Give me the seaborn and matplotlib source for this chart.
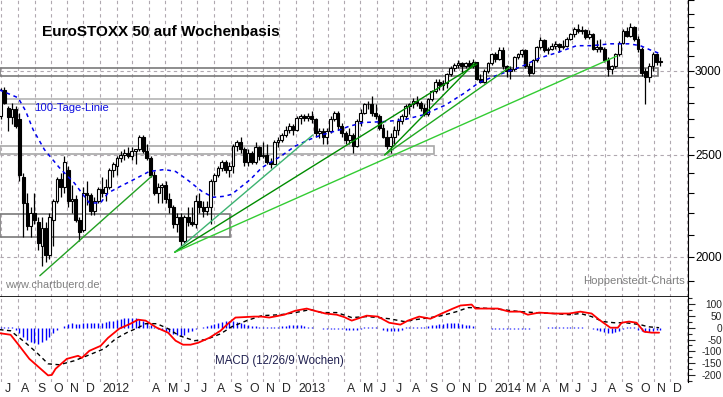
import numpy as np
import pandas as pd
import matplotlib
matplotlib.use("Agg")
import matplotlib.pyplot as plt
import matplotlib.dates as mdates
import matplotlib.ticker as mticker
from matplotlib import font_manager as fm
from matplotlib.patches import Rectangle
import seaborn as sns

# ---------------- data (weekly candles, EuroSTOXX 50) ----------------
first_week = "2011-06-27"
opens = [2720,2880,2770,2715,2760,2700,2380,2250,2140,2200,2160,2050,2130,2010,2170,2260,2370,2330,2420,2260,
         2270,2170,2120,2300,2290,2210,2260,2320,2300,2330,2420,2440,2480,2500,2510,2490,2520,2530,2600,2520,
         2480,2390,2300,2330,2340,2270,2230,2150,2180,2070,2180,2160,2150,2260,2230,2210,2230,2360,2390,2430,
         2460,2420,2440,2550,2570,2530,2460,2510,2460,2540,2490,2500,2460,2450,2570,2580,2610,2640,2660,2640,
         2710,2720,2710,2720,2700,2620,2630,2600,2630,2700,2740,2660,2620,2580,2610,2550,2690,2740,2790,2790,
         2740,2720,2650,2600,2550,2600,2640,2690,2720,2780,2790,2810,2800,2770,2730,2820,2870,2930,2910,2920,
         2980,3020,3040,3050,3030,3050,3030,3060,2950,2930,3000,3050,3110,3080,3140,3030,3000,3010,3090,3110,
         3140,3030,2990,3070,3160,3210,3140,3150,3170,3180,3160,3170,3220,3250,3290,3270,3280,3230,3250,3150,
         3160,3150,3070,3010,3030,3110,3190,3270,3240,3300,3220,3150,3000,2960,3030,3110,3060]
highs = [2890,2900,2780,2800,2780,2740,2400,2300,2230,2300,2180,2180,2160,2200,2270,2380,2400,2490,2440,2340,
         2290,2180,2330,2360,2300,2280,2330,2380,2370,2430,2460,2490,2520,2530,2540,2540,2530,2610,2610,2560,
         2490,2410,2350,2350,2360,2300,2240,2200,2200,2190,2230,2230,2290,2300,2260,2260,2370,2400,2440,2470,
         2470,2460,2560,2580,2600,2540,2530,2520,2570,2550,2570,2560,2480,2580,2600,2620,2660,2680,2670,2720,
         2730,2730,2740,2750,2710,2650,2650,2650,2720,2750,2750,2680,2630,2650,2620,2700,2760,2800,2810,2840,
         2790,2730,2670,2640,2620,2660,2710,2730,2790,2800,2830,2840,2810,2790,2830,2880,2950,2950,2940,2990,
         3030,3050,3070,3060,3060,3070,3080,3060,2980,3010,3060,3120,3130,3160,3160,3040,3030,3100,3120,3150,
         3150,3050,3080,3170,3230,3220,3160,3190,3200,3190,3210,3230,3260,3300,3320,3310,3290,3280,3260,3210,
         3220,3160,3090,3040,3120,3200,3290,3300,3330,3310,3240,3160,3020,3050,3130,3120,3090]
lows = [2700,2790,2630,2670,2650,2360,2090,2120,2090,2150,2030,1960,1980,1990,2050,2250,2280,2300,2230,2200,
        2160,2070,2110,2240,2190,2190,2250,2280,2260,2320,2380,2390,2460,2470,2480,2470,2450,2520,2510,2470,
        2380,2290,2250,2250,2250,2200,2130,2110,2050,2060,2140,2140,2130,2200,2180,2190,2150,2290,2380,2410,
        2400,2380,2400,2520,2510,2440,2440,2450,2450,2470,2480,2450,2430,2450,2540,2570,2600,2620,2610,2630,
        2670,2690,2690,2680,2600,2590,2560,2560,2620,2690,2640,2600,2560,2560,2510,2540,2660,2730,2760,2720,
        2700,2640,2590,2530,2510,2560,2610,2670,2700,2730,2770,2780,2750,2720,2720,2810,2860,2880,2880,2890,
        2970,3000,3020,2990,3020,3020,3020,2940,2920,2920,2990,3040,3060,3070,3010,2960,2950,3000,3080,3090,
        3020,2970,2980,3060,3150,3130,3110,3140,3150,3130,3150,3160,3210,3230,3260,3250,3220,3220,3140,3130,
        3130,3060,2970,2980,3020,3100,3180,3230,3230,3200,3130,2970,2790,2930,3000,3040,3030]
closes = [2880,2800,2715,2760,2660,2390,2250,2140,2200,2170,2060,2130,2010,2180,2260,2370,2330,2460,2260,2270,
          2170,2110,2300,2290,2210,2260,2320,2300,2330,2420,2450,2480,2500,2510,2490,2520,2530,2600,2520,2480,
          2390,2300,2330,2340,2270,2230,2150,2180,2070,2180,2160,2150,2260,2230,2210,2230,2360,2390,2430,2460,
          2420,2440,2550,2570,2530,2460,2510,2460,2540,2490,2500,2460,2450,2570,2580,2610,2640,2660,2640,2710,
          2720,2710,2720,2700,2620,2630,2600,2630,2700,2740,2660,2620,2580,2610,2550,2690,2740,2790,2790,2740,
          2720,2650,2600,2550,2600,2640,2690,2720,2780,2790,2810,2800,2770,2730,2820,2870,2930,2910,2920,2980,
          3020,3040,3050,3030,3050,3030,3060,2950,2930,3000,3050,3110,3080,3140,3030,3000,3010,3090,3110,3140,
          3030,2990,3070,3160,3210,3140,3150,3170,3180,3160,3170,3220,3250,3290,3270,3280,3230,3250,3150,3160,
          3150,3070,3010,3030,3110,3190,3270,3240,3300,3220,3150,2990,2960,3030,3110,3060,3065]

# 100-Tage-Linie (read at selected weeks)
ma_weeks = [0,5,7,9,12,16,20,24,27,29,32,36,40,44,47,50,54,57,60,62,67,70,75,79,83,86,91,93,97,103,108,113,
            119,124,128,133,139,144,149,154,158,163,168,171,174,176]
ma_vals = [2879,2830,2750,2640,2528,2430,2350,2250,2250,2300,2330,2369,2410,2420,2410,2369,2308,2278,2283,2293,
           2369,2430,2490,2548,2586,2610,2640,2657,2681,2687,2698,2726,2785,2858,2926,2974,3026,3085,3124,3170,
           3170,3183,3183,3170,3137,3118]

# MACD line and signal line (read at selected weeks)
macd_weeks = [0,3,5,8,11,13,14,15,18,21,22,24,27,29,32,35,37,39,42,45,47,49,51,53,56,59,61,63,68,70,72,76,79,
              82,84,87,90,92,94,98,101,104,107,109,112,115,118,121,123,126,127,131,133,136,139,141,144,148,152,
              155,158,160,163,165,166,168,170,172,174,176]
macd_vals = [-23,-30,-70,-132,-174,-202,-200,-174,-132,-119,-128,-98,-77,-43,-4,17,34,30,0,-21,-55,-72,-72,-64,
             -43,-13,17,43,47,47,43,55,72,81,72,60,55,45,30,51,47,21,13,30,47,38,60,81,94,98,81,81,81,68,68,55,
             64,60,60,68,60,34,0,0,21,26,21,-17,-21,-21]
signal_weeks = [0,3,7,10,13,16,20,24,28,31,34,37,39,42,45,48,52,55,59,62,66,70,75,79,83,86,90,94,98,101,104,
                108,111,115,118,122,125,127,131,134,139,143,148,152,155,158,161,164,167,171,173,176]
signal_vals = [-8,-13,-64,-106,-153,-157,-140,-115,-89,-47,-21,0,17,17,-4,-34,-55,-51,-26,4,30,51,55,64,77,64,
               64,43,47,43,38,26,34,43,51,68,85,85,81,77,68,64,60,55,60,47,26,21,21,13,4,0]
hist_vals = [4,4,3,2,
             -8,-22,-38,-50,-60,-66,-68,-62,-52,-38,-22,-10,-2,
             8,15,18,17,15,18,20,18,20,22,22,25,28,30,33,38,40,42,42,40,38,30,20,10,2,
             -5,-10,-15,-20,-25,-30,-35,-30,-20,-12,-5,0,
             3,6,10,15,20,25,28,30,30,25,20,15,
             12,8,6,5,3,2,1,3,5,6,8,10,10,12,10,8,5,3,
             0,-3,-5,-6,-5,-4,-5,-6,-8,-8,-10,-8,-5,2,2,2,2,-3,
             -8,-14,-16,-15,-12,-8,2,2,2,2,2,
             4,6,10,12,14,16,18,20,20,18,15,12,10,6,
             -1,-2,-2,-3,-4,-5,-6,-7,-6,-4,-4,-5,-5,-5,-4,-3,-2,-2,-1,1,1,1,1,2,3,4,4,3,1,0,
             -3,-6,-10,-14,-18,-22,-24,-20,-12,-5,3,5,2,-8,-15,-20,-18,-14,-10,-8]

# trend lines: start/end week and price
trend_start_w = [10.8, 46.8, 46.8, 46.8, 102.8, 102.8]
trend_start_p = [1920, 2021, 2021, 2021, 2498, 2498]
trend_end_w = [40.7, 83.6, 127.4, 164.7, 126.8, 136.2]
trend_end_p = [2386, 2609, 3046, 3099, 3052, 3026]
trend_colors = ["#22a022", "#3cb371", "#008c00", "#33cc33", "#008c00", "#1fa81f"]

# horizontal zones
zone_low = [2967, 2792, 2505, 2087]
zone_high = [3020, 2820, 2549, 2196]
zone_end = ["2014-11-08", "2013-10-02", "2013-09-15", "2012-08-31"]
zone_colors = ["#7a7a7a", "#b4b4b4", "#a8a8a8", "#7a7a7a"]

month_labels = ["J","A","S","O","N","D","2012","","","A","M","J","J","A","S","O","N","D",
                "2013","","","A","M","J","J","A","S","O","N","D",
                "2014","","M","A","M","J","J","A","S","O","N","D",""]

# ---------------- figure ----------------
sns.set_style("white")
plt.rcParams["font.family"] = ["Liberation Sans", "DejaVu Sans"]

avail = {f.name for f in fm.fontManager.ttflist}
if "Liberation Sans Narrow" in avail:
    NF = ["Liberation Sans Narrow", "Liberation Sans"]
    k = 1 / 0.82
else:
    NF = ["Liberation Sans", "DejaVu Sans"]
    k = 1.0

W, H = 723, 397
fig = plt.figure(figsize=(W / 100, H / 100), dpi=100)
def fx(px): return px / W
def fy(py): return 1 - py / H

ax = fig.add_axes([0, fy(297), fx(688), fy(0) - fy(297)])
axm = fig.add_axes([0, fy(382), fx(688), fy(297) - fy(382)], sharex=ax)

t0 = pd.Timestamp(first_week)
def wdate(w):
    return t0 + pd.to_timedelta(np.asarray(w, dtype=float) * 7, unit="D")

# candles are centred mid-week
dates = wdate(np.arange(len(closes)) + 2.5 / 7)
o = np.array(opens, float); h = np.array(highs, float)
l = np.array(lows, float); c = np.array(closes, float)
up = c >= o

gridc = "#b0a8b0"
gls = (0, (3, 3))

months = pd.date_range("2011-07-01", "2015-01-01", freq="MS")
for a in (ax, axm):
    for m in months:
        a.axvline(m, color=gridc, lw=0.8, ls=gls, zorder=0)
for lvl in (2000, 2500, 3000):
    ax.axhline(lvl, color=gridc, lw=0.8, ls=gls, zorder=0)

x_left = pd.Timestamp("2011-06-28 04:48")
x_right = pd.Timestamp("2015-01-03")
for lo, hi, end, col in zip(zone_low, zone_high, zone_end, zone_colors):
    x0 = mdates.date2num(x_left)
    ax.add_patch(Rectangle((x0, lo), mdates.date2num(pd.Timestamp(end)) - x0, hi - lo,
                           fill=False, ec=col, lw=1.2, zorder=1))

# candles
ax.vlines(dates, l, h, color="black", lw=0.9, zorder=3)
ax.bar(dates, np.maximum(np.abs(c - o), 2.0), bottom=np.minimum(o, c), width=5.2,
       color=np.where(up, "white", "black"), edgecolor="black", linewidth=0.8, zorder=4)

sns.lineplot(x=wdate(ma_weeks), y=ma_vals, ax=ax, color="#0000ee", lw=1.1,
             linestyle=(0, (2.5, 2.5)), zorder=5)

for ws, ps, we, pe, col in zip(trend_start_w, trend_start_p, trend_end_w, trend_end_p, trend_colors):
    ax.plot(wdate([ws, we]), [ps, pe], color=col, lw=1.0, zorder=6)

ax.set_yscale("log")
ax.set_ylim(1833, 3502)
ax.set_xlim(x_left, x_right)
ax.yaxis.tick_right()
ax.yaxis.set_major_locator(mticker.FixedLocator(list(range(1900, 3600, 100))))
ax.yaxis.set_minor_locator(mticker.NullLocator())
ax.yaxis.set_major_formatter(mticker.FuncFormatter(
    lambda v, p: f"{int(round(v))}" if int(round(v)) in (2000, 2500, 3000) else ""))
ax.tick_params(axis="y", which="major", length=4, width=0.8, direction="out", pad=1.0,
               labelsize=8.6 * k, colors="black")
for lab in ax.get_yticklabels():
    lab.set_family(NF)
ax.tick_params(axis="x", length=0, labelbottom=False)
for s in ("left", "top"):
    ax.spines[s].set_visible(False)
ax.spines["right"].set_color("black")
ax.spines["bottom"].set_color("black")
ax.spines["bottom"].set_linewidth(1.2)
ax.set_ylabel(""); ax.set_xlabel("")

# MACD panel
axm.vlines(dates, 0, hist_vals, color="#0000ff", lw=1.0, zorder=3)
sns.lineplot(x=wdate(signal_weeks), y=signal_vals, ax=axm, color="black", lw=1.0,
             linestyle=(0, (3, 2.5)), zorder=4)
sns.lineplot(x=wdate(macd_weeks), y=macd_vals, ax=axm, color="#ff0000", lw=1.3, zorder=5)
axm.set_ylim(-230, 130)
axm.yaxis.tick_right()
axm.yaxis.set_major_locator(mticker.FixedLocator([100, 50, 0, -50, -100, -150, -200]))
axm.yaxis.set_minor_locator(mticker.FixedLocator(list(range(-225, 130, 25))))
axm.yaxis.set_major_formatter(mticker.FuncFormatter(lambda v, p: f"{int(v)}"))
axm.tick_params(axis="y", which="major", length=5, width=0.8, direction="out", pad=19.5,
                labelsize=7.3 * k)
axm.tick_params(axis="y", which="minor", length=3, width=0.8, direction="out")
for lab in axm.get_yticklabels():
    lab.set_horizontalalignment("right")
    lab.set_family(NF)
axm.set_xticks(months)
axm.tick_params(axis="x", length=11, width=0.9, direction="out", color="#606060", labelbottom=False)
for s in ("left", "top", "bottom"):
    axm.spines[s].set_visible(False)
axm.spines["right"].set_color("black")
axm.set_ylabel(""); axm.set_xlabel("")
axm.set_xlim(x_left, x_right)

for m, lab in zip(months, month_labels):
    if lab:
        axm.annotate(lab, xy=(m, 0), xycoords=("data", "axes fraction"), xytext=(2.0, -1.0),
                     textcoords="offset points", ha="left", va="top", fontsize=8.8 * k,
                     family=NF, annotation_clip=False)

# texts
fig.text(fx(42), fy(32), "EuroSTOXX 50 auf Wochenbasis", fontsize=11, fontweight="bold",
         ha="left", va="center", color="black")
fig.text(fx(34), fy(108), "100-Tage-Linie", fontsize=8.1 * k, family=NF, ha="left", va="center",
         color="#1010e0")
fig.text(fx(5), fy(285), "www.chartbuero.de", fontsize=7.9 * k, family=NF, ha="left", va="center",
         color="#808080")
fig.text(fx(685), fy(281), "Hoppenstedt-Charts", fontsize=8.2 * k, family=NF, ha="right", va="center",
         color="#808080")
fig.text(fx(215), fy(361), "MACD (12/26/9 Wochen)", fontsize=8.3 * k, family=NF, ha="left", va="center",
         color="#202050")

fig.savefig("out.png", dpi=100)
